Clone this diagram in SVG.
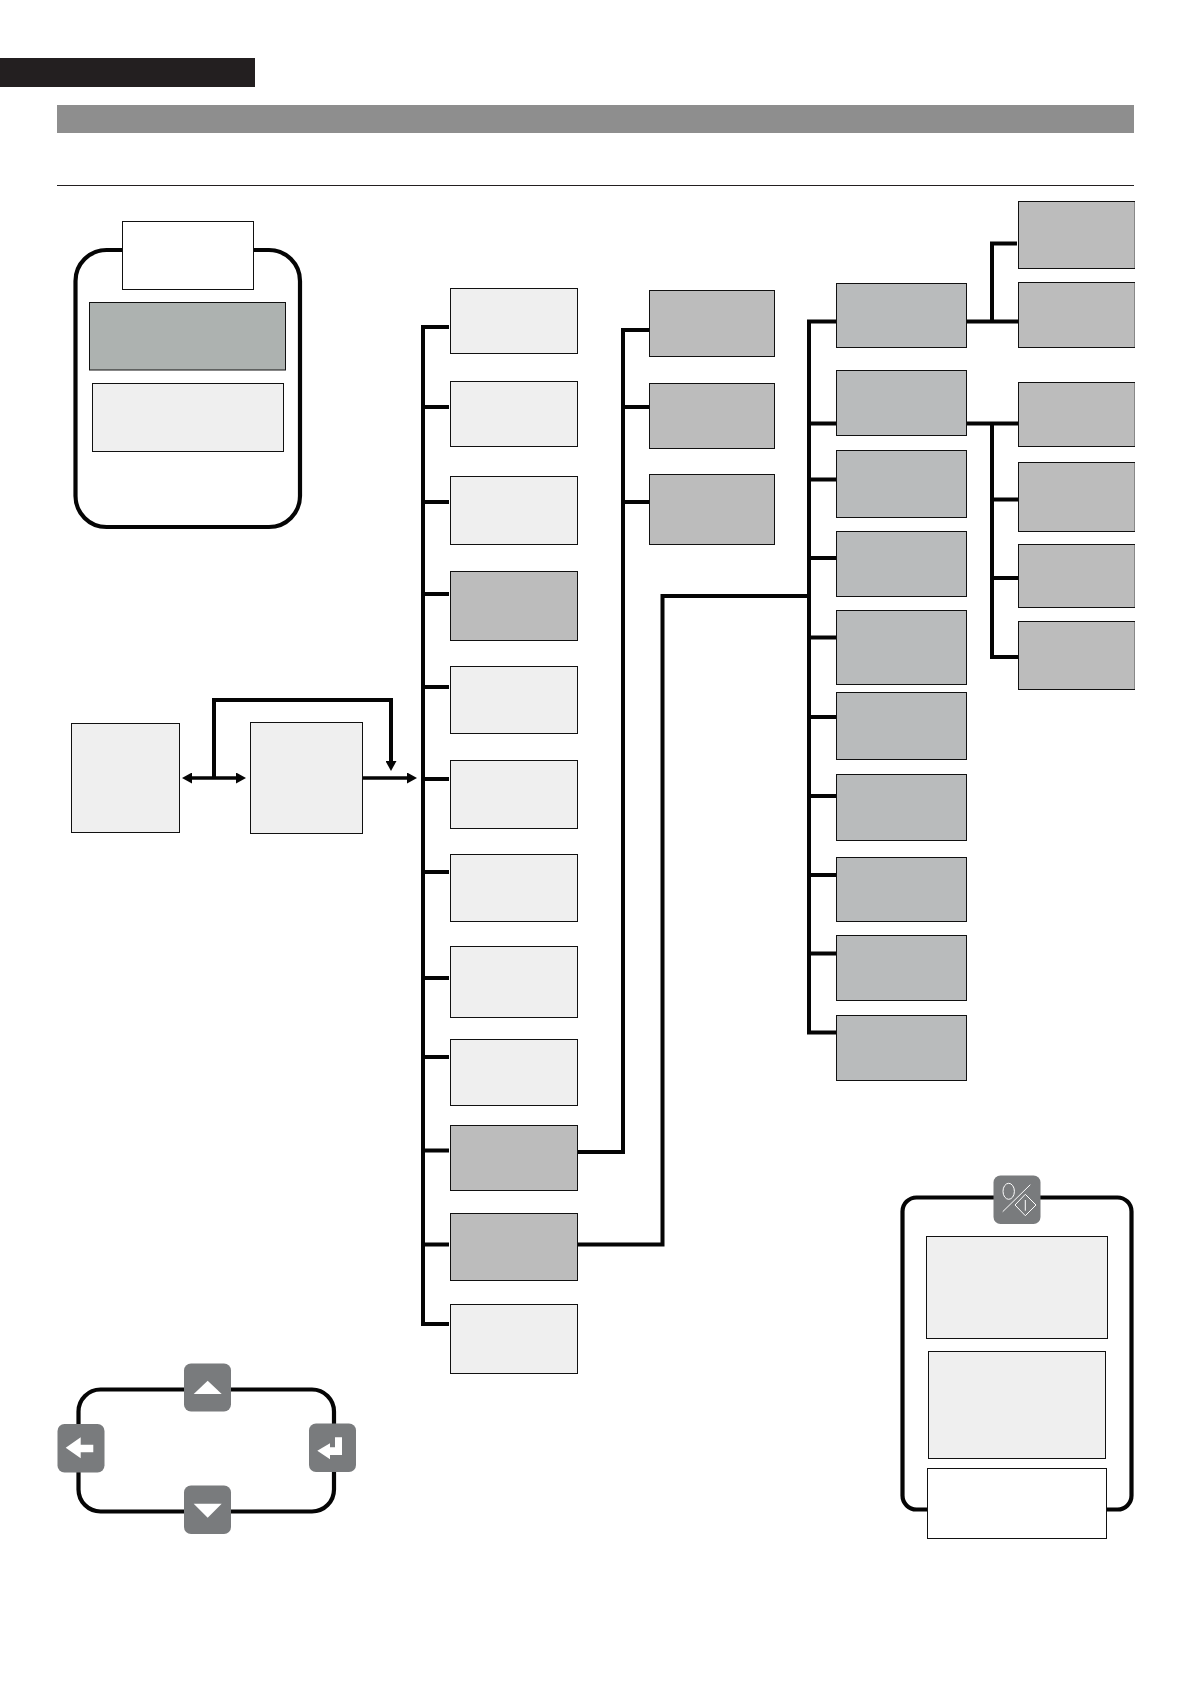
<svg xmlns="http://www.w3.org/2000/svg" width="1191" height="1684" viewBox="0 0 1191 1684">
<defs>
<style>
.box{stroke:#111;stroke-width:1}
.l{fill:#efefef}
.d{fill:#bcbcbc}
.m{fill:#b9bbbc}
.w{fill:#fff}
.c{fill:none;stroke:#050505;stroke-width:4}
.a{fill:none;stroke:#050505;stroke-width:3.4}
.f{fill:none;stroke:#050505;stroke-width:4.2}
.key{fill:#797b7d}
.g{fill:#fff}
.i{fill:none;stroke:#fff;stroke-width:1}
.edge{stroke:#888;stroke-width:1}
</style>
<marker id="ah" markerUnits="userSpaceOnUse" markerWidth="10" markerHeight="11" refX="5" refY="5.5" orient="auto-start-reverse"><path d="M0,0 L10,5.5 L0,11z" fill="#050505"/></marker>
</defs>
<rect width="1191" height="1684" fill="#fff"/>
<g id="header">
<rect x="0" y="58" width="255" height="29" fill="#231f20"/>
<rect x="57" y="105" width="1077" height="28" fill="#8e8e8e"/>
<rect x="57" y="185" width="1077" height="1" fill="#231f20"/>
</g>
<g id="connectors">
<path class="c" d="M449,327H423V1324H449M423,407H449M423,502H449M423,594H449M423,687H449M423,779H449M423,872H449M423,978H449M423,1057H449M423,1150.5H449M423,1244.5H449"/>
<path class="c" d="M578,1152H623V330H649M623,407H649M623,502H649"/>
<path class="c" d="M578,1244.5H662.5V596H809"/>
<path class="c" d="M836,321.5H809V1032.5H836M809,423.5H836M809,479.5H836M809,558H836M809,637.5H836M809,717H836M809,796H836M809,875H836M809,953.5H836"/>
<path class="c" d="M965,321.5H1018M992,321.5V243.5H1017"/>
<path class="c" d="M965,423.5H1018M992,423.5V657H1018M992,499.5H1018M992,578H1018"/>
<path class="a" d="M187,778H241" marker-start="url(#ah)" marker-end="url(#ah)"/>
<path class="c" d="M214,778V700H391V766" marker-end="url(#ah)"/>
<path class="a" d="M362,778H412" marker-end="url(#ah)"/>
</g>
<g id="panel-a">
<rect class="f" x="75.5" y="250" width="224.5" height="277" rx="31"/>
<rect class="box w" x="122.5" y="221.5" width="131" height="68"/>
<rect class="box" fill="#adb2b0" x="89.5" y="302.5" width="196" height="67.5"/>
<rect class="box l" x="92.5" y="383.5" width="191" height="68"/>
</g>
<g id="start-a"><rect class="box l" x="71.5" y="723.5" width="108" height="109"/></g>
<g id="start-b"><rect class="box l" x="250.5" y="722.5" width="112" height="111"/></g>
<g id="menu-1"><rect class="box l" x="450.5" y="288.5" width="127" height="65"/></g>
<g id="menu-2"><rect class="box l" x="450.5" y="381.5" width="127" height="65"/></g>
<g id="menu-3"><rect class="box l" x="450.5" y="476.5" width="127" height="68"/></g>
<g id="menu-4"><rect class="box d" x="450.5" y="571.5" width="127" height="69"/></g>
<g id="menu-5"><rect class="box l" x="450.5" y="666.5" width="127" height="67"/></g>
<g id="menu-6"><rect class="box l" x="450.5" y="760.5" width="127" height="68"/></g>
<g id="menu-7"><rect class="box l" x="450.5" y="854.5" width="127" height="67"/></g>
<g id="menu-8"><rect class="box l" x="450.5" y="946.5" width="127" height="71"/></g>
<g id="menu-9"><rect class="box l" x="450.5" y="1039.5" width="127" height="66"/></g>
<g id="menu-10"><rect class="box d" x="450.5" y="1125.5" width="127" height="65"/></g>
<g id="menu-11"><rect class="box d" x="450.5" y="1213.5" width="127" height="67"/></g>
<g id="menu-12"><rect class="box l" x="450.5" y="1304.5" width="127" height="69"/></g>
<g id="sub-1"><rect class="box d" x="649.5" y="290.5" width="125" height="66"/></g>
<g id="sub-2"><rect class="box d" x="649.5" y="383.5" width="125" height="65"/></g>
<g id="sub-3"><rect class="box d" x="649.5" y="474.5" width="125" height="70"/></g>
<g id="item-1"><rect class="box m" x="836.5" y="283.5" width="130" height="64"/></g>
<g id="item-2"><rect class="box m" x="836.5" y="370.5" width="130" height="65"/></g>
<g id="item-3"><rect class="box m" x="836.5" y="450.5" width="130" height="67"/></g>
<g id="item-4"><rect class="box m" x="836.5" y="531.5" width="130" height="65"/></g>
<g id="item-5"><rect class="box m" x="836.5" y="610.5" width="130" height="74"/></g>
<g id="item-6"><rect class="box m" x="836.5" y="692.5" width="130" height="67"/></g>
<g id="item-7"><rect class="box m" x="836.5" y="774.5" width="130" height="66"/></g>
<g id="item-8"><rect class="box m" x="836.5" y="857.5" width="130" height="64"/></g>
<g id="item-9"><rect class="box m" x="836.5" y="935.5" width="130" height="65"/></g>
<g id="item-10"><rect class="box m" x="836.5" y="1015.5" width="130" height="65"/></g>
<g id="leaf-1"><rect class="box d" x="1018.5" y="201.5" width="116" height="67"/><path class="edge" d="M1134.5,202V268"/></g>
<g id="leaf-2"><rect class="box d" x="1018.5" y="282.5" width="116" height="65"/><path class="edge" d="M1134.5,283V347"/></g>
<g id="leaf-3"><rect class="box d" x="1018.5" y="382.5" width="116" height="64"/><path class="edge" d="M1134.5,383V446"/></g>
<g id="leaf-4"><rect class="box d" x="1018.5" y="462.5" width="116" height="69"/><path class="edge" d="M1134.5,463V531"/></g>
<g id="leaf-5"><rect class="box d" x="1018.5" y="544.5" width="116" height="63"/><path class="edge" d="M1134.5,545V607"/></g>
<g id="leaf-6"><rect class="box d" x="1018.5" y="621.5" width="116" height="68"/><path class="edge" d="M1134.5,622V689"/></g>
<g id="nav">
<rect class="f" x="78.5" y="1389.5" width="255.5" height="122" rx="22"/>
<rect class="key" x="184" y="1363.5" width="47" height="48" rx="7"/>
<path class="g" d="M193.7,1394L207.7,1380.7L221.7,1394z"/>
<rect class="key" x="57.5" y="1424" width="47" height="48.5" rx="7"/>
<path class="g" d="M65.7,1447.7L80.7,1437.3V1444.7H93.3V1452.3H80.7V1458.3z"/>
<rect class="key" x="309" y="1423.5" width="47" height="48.5" rx="7"/>
<path class="g" d="M317.3,1450.7L330,1443.3V1447.3H335V1437.3H342V1455H330V1459.3z"/>
<rect class="key" x="184" y="1485.5" width="47" height="48.5" rx="7"/>
<path class="g" d="M193.7,1503.7H221.7L207.7,1517.7z"/>
</g>
<g id="panel-b">
<rect class="f" x="902.5" y="1197.5" width="229" height="312" rx="14"/>
<rect class="key" x="993.5" y="1175.5" width="47" height="48.5" rx="7"/>
<ellipse class="i" cx="1008.7" cy="1191.3" rx="5.7" ry="8"/>
<path class="i" d="M1002.7,1211.7L1030.3,1184.7M1015,1205L1025.3,1194.3L1036,1205L1025.3,1215.7zM1025.3,1200V1210.7"/>
<rect class="box l" x="926.5" y="1236.5" width="181" height="102"/>
<rect class="box l" x="928.5" y="1351.5" width="177" height="107"/>
<rect class="box w" x="927.5" y="1468.5" width="179" height="70"/>
</g>
</svg>
